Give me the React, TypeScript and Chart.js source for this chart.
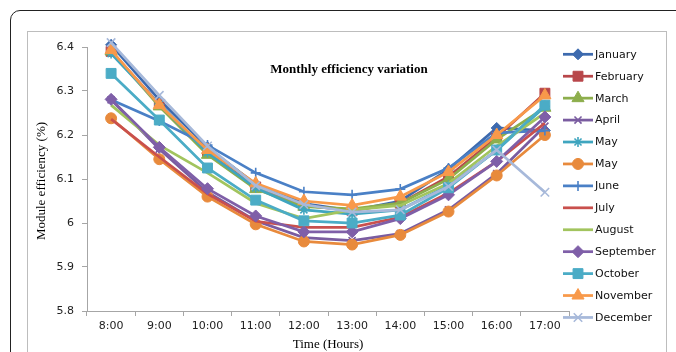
import React, { useEffect, useRef } from 'react';
import { Chart, registerables } from 'chart.js';
import { drawPoint } from 'chart.js/helpers';

Chart.register(...registerables);

const hours = ['8:00', '9:00', '10:00', '11:00', '12:00', '13:00', '14:00', '15:00', '16:00', '17:00'];

const seriesNames = ['January', 'February', 'March', 'April', 'May', 'May', 'June', 'July', 'August', 'September', 'October', 'November', 'December'];

const january = [6.405, 6.28, 6.172, 6.088, 6.044, 6.028, 6.05, 6.122, 6.216, 6.21];
const february = [6.39, 6.27, 6.16, 6.082, 6.04, 6.028, 6.045, 6.105, 6.195, 6.295];
const march = [6.39, 6.265, 6.155, 6.077, 6.037, 6.032, 6.045, 6.1, 6.19, 6.262];
const april = [6.28, 6.168, 6.07, 6.005, 5.967, 5.96, 5.976, 6.03, 6.112, 6.22];
const mayStar = [6.385, 6.27, 6.16, 6.08, 6.03, 6.02, 6.03, 6.085, 6.165, 6.265];
const mayCircle = [6.238, 6.145, 6.06, 5.997, 5.958, 5.951, 5.973, 6.026, 6.108, 6.2];
const june = [6.28, 6.232, 6.177, 6.114, 6.071, 6.064, 6.077, 6.125, 6.205, 6.21];
const july = [6.236, 6.15, 6.066, 6.004, 5.99, 5.99, 6.013, 6.068, 6.14, 6.227];
const august = [6.268, 6.177, 6.114, 6.045, 6.01, 6.03, 6.04, 6.09, 6.175, 6.25];
const september = [6.281, 6.172, 6.078, 6.016, 5.98, 5.98, 6.01, 6.064, 6.14, 6.241];
const october = [6.34, 6.234, 6.125, 6.052, 6.005, 6.0, 6.018, 6.08, 6.166, 6.268];
const november = [6.393, 6.268, 6.166, 6.09, 6.05, 6.04, 6.06, 6.116, 6.2, 6.29];
const december = [6.41, 6.29, 6.175, 6.085, 6.042, 6.025, 6.03, 6.083, 6.166, 6.07];

const seriesValues = [january, february, march, april, mayStar, mayCircle, june, july, august, september, october, november, december];

const seriesColors = ['#3D6AAE', '#B8474A', '#8DAE4C', '#7A5CA0', '#3FA5BF', '#E88A3C', '#4A80C6', '#C9504D', '#A2C45E', '#7F5FA8', '#4BACC6', '#F8994A', '#A7B9DA'];
const pointStyles = ['rectRot', 'rect', 'triangle', 'crossRot', 'star', 'circle', 'cross', 'circle', 'circle', 'rectRot', 'rect', 'triangle', 'crossRot'];
const pointRadii = [5.5, 7, 7, 5, 5, 5.5, 5, 0, 0, 6, 7, 7, 6];

const yMin = 5.8;
const yMax = 6.4;
const yStep = 0.1;

const overlayPlugin = {
  id: 'overlayTexts',
  afterDraw(chart: any) {
    const ctx = chart.ctx as CanvasRenderingContext2D;
    ctx.save();
    ctx.fillStyle = '#000';
    ctx.textAlign = 'center';
    ctx.textBaseline = 'middle';
    ctx.font = 'bold 13px "Liberation Serif"';
    ctx.fillText('Monthly efficiency variation', 349, 70);
    ctx.font = '13px "Liberation Serif"';
    ctx.fillText('Time (Hours)', 328, 345);
    ctx.save();
    ctx.translate(42, 181);
    ctx.rotate(-Math.PI / 2);
    ctx.fillText('Module efficiency (%)', 0, 0);
    ctx.restore();

    chart.data.datasets.forEach((ds: any, i: number) => {
      const y = 54.3 + i * 21.93;
      ctx.strokeStyle = ds.borderColor;
      ctx.lineWidth = 2.75;
      ctx.beginPath();
      ctx.moveTo(563, y);
      ctx.lineTo(593, y);
      ctx.stroke();
      if (ds.pointRadius > 0) {
        ctx.fillStyle = ds.borderColor;
        ctx.strokeStyle = ds.borderColor;
        ctx.lineWidth = ds.pointBorderWidth;
        drawPoint(ctx, { pointStyle: ds.pointStyle, radius: ds.pointRadius, borderWidth: ds.pointBorderWidth, rotation: 0 } as any, 578, y);
      }
      ctx.fillStyle = '#111';
      ctx.font = '11px "DejaVu Sans"';
      ctx.textAlign = 'left';
      ctx.textBaseline = 'middle';
      ctx.fillText(ds.label, 595, y + 0.5);
    });
    ctx.restore();
  },
};

export default function App() {
  const canvasRef = useRef<HTMLCanvasElement | null>(null);

  useEffect(() => {
    document.body.style.margin = '0';
    const canvas = canvasRef.current;
    if (!canvas) return;
    const datasets = seriesNames.map((name, i) => {
      const isCross = pointStyles[i] === 'cross' || pointStyles[i] === 'crossRot' || pointStyles[i] === 'star';
      return {
        label: name,
        data: seriesValues[i],
        borderColor: seriesColors[i],
        backgroundColor: seriesColors[i],
        pointBackgroundColor: seriesColors[i],
        pointBorderColor: seriesColors[i],
        pointStyle: pointStyles[i],
        pointRadius: pointRadii[i],
        pointHoverRadius: pointRadii[i],
        pointBorderWidth: isCross ? 1.6 : 1,
        borderWidth: 2.75,
        tension: 0,
        fill: false,
        clip: false as any,
        order: -i,
      };
    });
    const chart = new Chart(canvas, {
      type: 'line',
      data: { labels: hours, datasets },
      options: {
        animation: false,
        responsive: false,
        devicePixelRatio: 1,
        layout: { padding: { left: 0, right: 107, top: 47, bottom: 0 } },
        plugins: {
          legend: { display: false },
          title: { display: false },
          tooltip: { enabled: false },
        },
        scales: {
          x: {
            type: 'category',
            offset: true,
            grid: { offset: true, drawOnChartArea: false, drawTicks: true, tickLength: 5, color: '#a6a6a6' },
            border: { display: true, color: '#a6a6a6', width: 1 },
            ticks: { color: '#222', font: { family: 'DejaVu Sans', size: 11 }, padding: 4, maxRotation: 0, autoSkip: false },
            afterFit(scale: any) { scale.height = 41; },
          },
          y: {
            min: yMin,
            max: yMax,
            grid: { drawOnChartArea: false, drawTicks: true, tickLength: 5, color: '#a6a6a6' },
            border: { display: true, color: '#a6a6a6', width: 1 },
            ticks: {
              stepSize: yStep,
              color: '#222',
              font: { family: 'DejaVu Sans', size: 11 },
              padding: 8,
              callback: (v: any) => String(Number(Number(v).toFixed(1))),
            },
            afterFit(scale: any) { scale.width = 87; },
          },
        },
      },
      plugins: [overlayPlugin],
    } as any);
    return () => chart.destroy();
  }, []);

  return (
    <div style={{ position: 'relative', width: 676, height: 352, overflow: 'hidden', background: '#fff' }}>
      <div style={{ position: 'absolute', left: 10, top: 10, width: 720, height: 420, border: '1.5px solid #222', borderRadius: 10, boxSizing: 'border-box' }} />
      <div style={{ position: 'absolute', left: 27, top: 31, width: 640, height: 420, border: '1px solid #bdbdbd', boxSizing: 'border-box' }} />
      <canvas ref={canvasRef} width={676} height={352} style={{ position: 'absolute', left: 0, top: 0, display: 'block' }} />
    </div>
  );
}
